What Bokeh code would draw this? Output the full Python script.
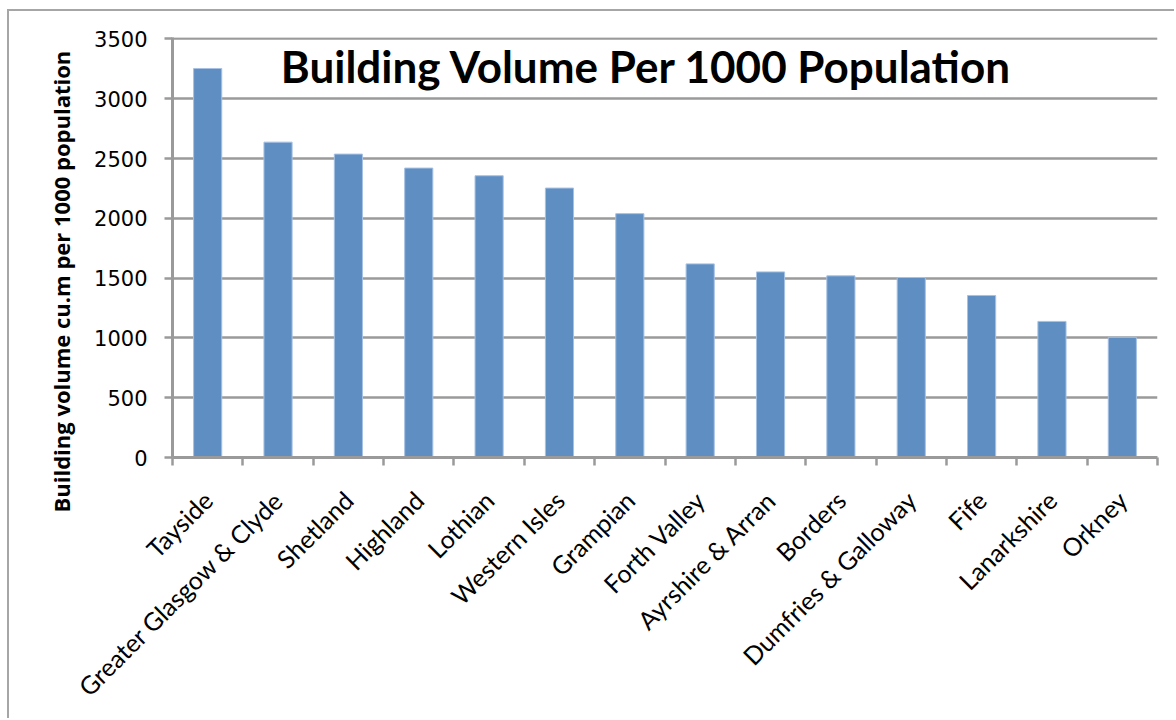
import math
from bokeh.plotting import figure
from bokeh.models import Range1d, FixedTicker, Label, Title
from bokeh.embed import file_html
from bokeh.resources import INLINE

categories = ["Tayside", "Greater Glasgow & Clyde", "Shetland", "Highland", "Lothian",
              "Western Isles", "Grampian", "Forth Valley", "Ayrshire & Arran", "Borders",
              "Dumfries & Galloway", "Fife", "Lanarkshire", "Orkney"]
values = [3253, 2637, 2537, 2420, 2356, 2253, 2039, 1619, 1552, 1519, 1505, 1355, 1138, 1005]
y_ticks = [0, 500, 1000, 1500, 2000, 2500, 3000, 3500]
title_text = "Building Volume Per 1000 Population"
y_label = "Building volume cu.m per 1000 population"

n = len(categories)
centers = [i + 0.5 for i in range(n)]
bounds = list(range(n + 1))

GRAY = "#9a9a9a"
ML, MT, BW = 7, 9, 2  # outer chart-area offset and border width

p = figure(width=1176 - ML - BW, height=720 - MT - BW,
           x_range=Range1d(0, n), y_range=Range1d(0, 3512),
           output_backend="svg", toolbar_location=None,
           min_border_left=172 - ML - BW, min_border_right=19,
           min_border_top=37 - MT - BW, min_border_bottom=263)
p.margin = (MT, 0, 0, ML)
p.styles = {"border-left": f"{BW}px solid #a6a6a6", "border-top": f"{BW}px solid #a6a6a6"}
p.outline_line_color = None
p.background_fill_color = "white"
p.border_fill_color = "white"

p.vbar(x=centers, top=values, bottom=0, width=0.4,
       fill_color="#5F8EC3", line_color="#A6C1E3", line_width=1)

# x axis
xa = p.xaxis[0]
xa.ticker = FixedTicker(ticks=centers, minor_ticks=bounds)
xa.major_label_overrides = {c: name for c, name in zip(centers, categories)}
xa.major_label_orientation = math.pi / 4
xa.major_tick_line_color = None
xa.major_tick_out = 0
xa.major_tick_in = 0
xa.minor_tick_out = 8
xa.minor_tick_in = 0
xa.minor_tick_line_color = GRAY
xa.minor_tick_line_width = 2.5
xa.axis_line_color = GRAY
xa.axis_line_width = 3
xa.major_label_text_font = "Lato"
xa.major_label_text_font_size = "25px"
xa.major_label_text_color = "black"
xa.major_label_standoff = 30

# y axis
ya = p.yaxis[0]
ya.ticker = FixedTicker(ticks=y_ticks)
ya.major_tick_out = 8
ya.major_tick_in = 0
ya.major_tick_line_color = GRAY
ya.major_tick_line_width = 2.5
ya.minor_tick_line_color = None
ya.axis_line_color = GRAY
ya.axis_line_width = 3
ya.major_label_text_font = "DejaVu Sans"
ya.major_label_text_font_size = "21px"
ya.major_label_text_color = "black"
ya.major_label_standoff = 17

p.xgrid.grid_line_color = None
p.ygrid.ticker = FixedTicker(ticks=y_ticks)
p.ygrid.grid_line_color = GRAY
p.ygrid.grid_line_width = 2.5

p.add_layout(Label(x=6.74, y=3270, text=title_text, text_align="center",
                   text_baseline="alphabetic", text_font="Lato",
                   text_font_style="bold", text_font_size="44px", text_color="black"))

p.add_layout(Title(text=y_label, align="left", offset=-55, standoff=32,
                   text_font="Open Sans", text_font_style="bold",
                   text_font_size="22px", text_color="black"), "left")

open("out.html", "w").write(file_html(p, INLINE))
